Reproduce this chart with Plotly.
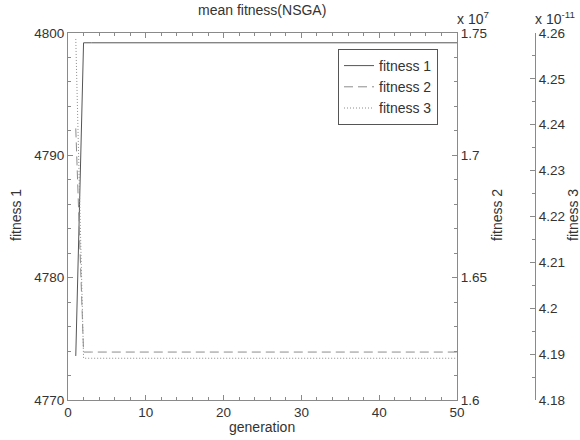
import plotly.graph_objects as go

generation = list(range(1, 51))
fitness1 = [4773.6] + [4799.2] * 49
fitness2 = [1.7110e7] + [1.6196e7] * 49
fitness3 = [4.2587e-11] + [4.1891e-11] * 49

f2_ticks = [1.6e7, 1.65e7, 1.7e7, 1.75e7]
f2_text = ["1.6", "1.65", "1.7", "1.75"]
f3_ticks = [4.18e-11, 4.19e-11, 4.20e-11, 4.21e-11, 4.22e-11, 4.23e-11, 4.24e-11, 4.25e-11, 4.26e-11]
f3_text = ["4.18", "4.19", "4.2", "4.21", "4.22", "4.23", "4.24", "4.25", "4.26"]

FONT = "Liberation Sans, Arial, sans-serif"
TXT = "#333333"
AX = "#8a8a8a"

fig = go.Figure()
fig.add_trace(go.Scatter(x=generation, y=fitness1, name="fitness 1", mode="lines",
                         line=dict(color="#555555", width=1), yaxis="y"))
fig.add_trace(go.Scatter(x=generation, y=fitness2, name="fitness 2", mode="lines",
                         line=dict(color="#8c8c8c", width=1, dash="9px,5px"), yaxis="y2"))
fig.add_trace(go.Scatter(x=generation, y=fitness3, name="fitness 3", mode="lines",
                         line=dict(color="#8c8c8c", width=1, dash="1px,2px"), yaxis="y3"))

W_PLOT = 467.0
XD = 389.0 / W_PLOT

common = dict(showgrid=False, zeroline=False, showline=True, linecolor=AX, linewidth=1,
              ticks="inside", ticklen=5, tickcolor=AX,
              tickfont=dict(family=FONT, size=13.5, color=TXT))

fig.update_layout(
    width=580, height=440,
    margin=dict(l=68, r=45, t=33, b=40),
    paper_bgcolor="white", plot_bgcolor="white",
    showlegend=True,
    legend=dict(x=(338 - 68) / W_PLOT, y=(400 - 49) / 367.0, xanchor="left", yanchor="top",
                bordercolor="#555555", borderwidth=1, bgcolor="white",
                font=dict(family=FONT, size=14, color=TXT), tracegroupgap=0),
    xaxis=dict(domain=[0, XD], range=[0, 50], dtick=10, tick0=0, mirror="ticks",
               minor=dict(dtick=2, ticks="inside", ticklen=3, tickcolor=AX), **common),
    yaxis=dict(range=[4770, 4800], dtick=10, tick0=4770,
               minor=dict(dtick=2, ticks="inside", ticklen=3, tickcolor=AX), **common),
    yaxis2=dict(range=[1.6e7, 1.75e7], overlaying="y", side="right", anchor="x",
                tickmode="array", tickvals=f2_ticks, ticktext=f2_text,
                minor=dict(tickmode="linear", tick0=1.6e7, dtick=0.01e7, ticks="inside", ticklen=3, tickcolor=AX),
                **common),
    yaxis3=dict(range=[4.18e-11, 4.26e-11], overlaying="y", side="right", anchor="free", position=1.0,
                tickmode="array", tickvals=f3_ticks, ticktext=f3_text,
                minor=dict(tickmode="linear", tick0=4.18e-11, dtick=0.005e-11, ticks="inside", ticklen=3, tickcolor=AX),
                **common),
)

ann_font = dict(family=FONT, size=14, color=TXT)
anns = [
    dict(text="mean fitness(NSGA)", px=262, py=10, angle=0),
    dict(text="generation", px=262, py=427, angle=0),
    dict(text="fitness 1", px=16, py=215, angle=-90),
    dict(text="fitness 2", px=497, py=215, angle=-90),
    dict(text="fitness 3", px=573, py=215, angle=-90),
]
for a in anns:
    fig.add_annotation(text=a["text"], xref="paper", yref="paper",
                       x=(a["px"] - 68) / W_PLOT, y=(400 - a["py"]) / 367.0,
                       xanchor="center", yanchor="middle", showarrow=False,
                       textangle=a["angle"], font=ann_font)
fig.add_annotation(text="x 10<sup>7</sup>", xref="paper", yref="paper",
                   x=(455 - 68) / W_PLOT, y=(400 - 18) / 367.0, xanchor="left", yanchor="middle",
                   showarrow=False, font=ann_font)
fig.add_annotation(text="x 10<sup>-11</sup>", xref="paper", yref="paper",
                   x=(533 - 68) / W_PLOT, y=(400 - 18) / 367.0, xanchor="left", yanchor="middle",
                   showarrow=False, font=ann_font)

fig.write_html("out.html")
